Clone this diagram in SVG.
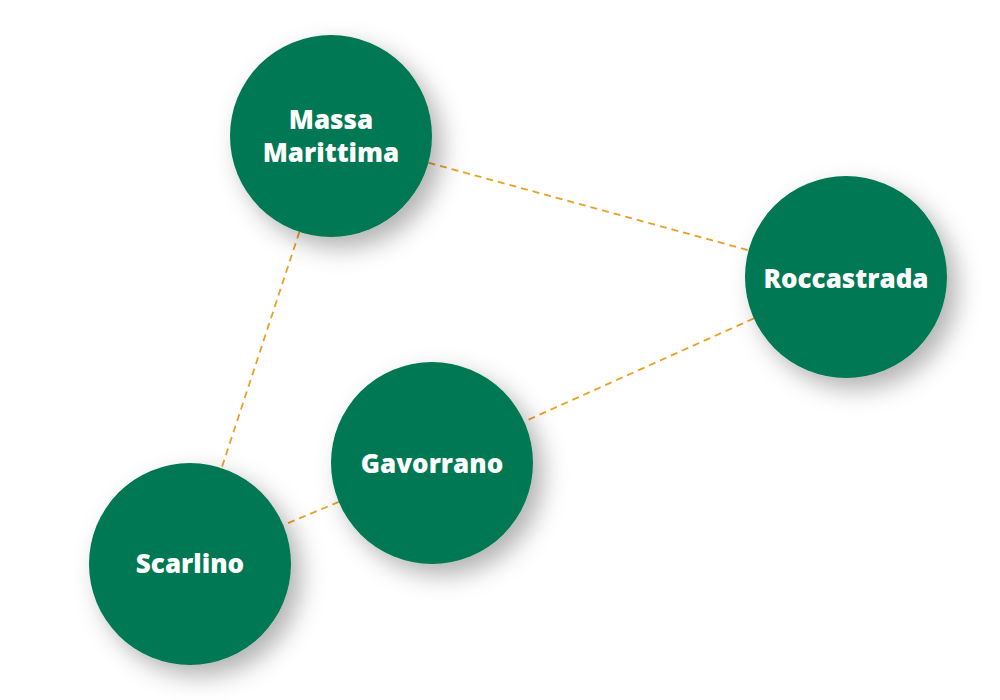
<svg xmlns="http://www.w3.org/2000/svg" width="1000" height="700" viewBox="0 0 1000 700">
<defs>
<filter id="sh" x="-50%" y="-50%" width="200%" height="200%">
<feDropShadow dx="10" dy="11" stdDeviation="12" flood-color="#000" flood-opacity="0.3"/>
</filter>
<style>
.n{fill:#047852;filter:url(#sh)}
.t{fill:#fff;font-family:"Open Sans",Lato,"Liberation Sans",sans-serif;font-weight:800;font-size:26px;text-anchor:middle;font-variant-ligatures:none}
.c{stroke:#E9A125;stroke-width:1.8;stroke-dasharray:7 5;fill:none}
</style>
</defs>
<rect width="1000" height="700" fill="#fff"/>
<g id="connectors">
<line class="c" x1="428.4" y1="162.7" x2="748.6" y2="250.3"/>
<line class="c" x1="299.4" y1="231.9" x2="221.6" y2="468.1"/>
<line class="c" x1="753.9" y1="318.4" x2="524.1" y2="421.6"/>
<line class="c" x1="338.8" y1="501.9" x2="283.2" y2="525.1"/>
</g>
<g id="massa-marittima">
<circle class="n" cx="331" cy="136" r="101"/>
<text class="t" x="331" y="129">Massa</text>
<text class="t" x="331" y="162">Marittima</text>
</g>
<g id="roccastrada">
<circle class="n" cx="846" cy="277" r="101"/>
<text class="t" x="846" y="288">Roccastrada</text>
</g>
<g id="gavorrano">
<circle class="n" cx="432" cy="463" r="101"/>
<text class="t" x="432" y="473">Gavorrano</text>
</g>
<g id="scarlino">
<circle class="n" cx="190" cy="564" r="101"/>
<text class="t" x="190" y="573">Scarlino</text>
</g>
</svg>
